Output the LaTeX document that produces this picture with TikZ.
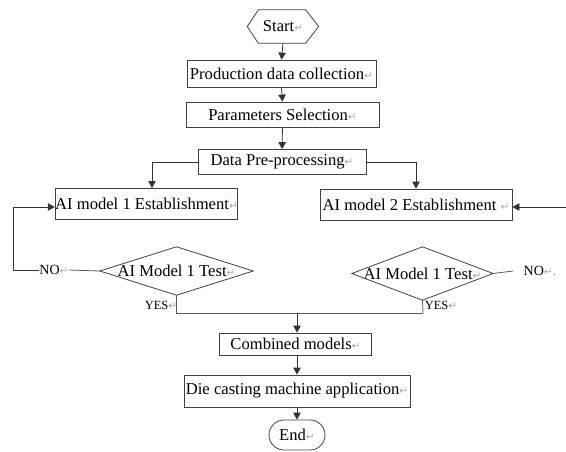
\documentclass[tikz,border=0pt]{standalone}
\usepackage{fontspec}
\setmainfont{Liberation Serif}
\newfontfamily\dejavu{DejaVu Sans}
\usetikzlibrary{shapes.misc,arrows.meta}
\newcommand\parmk{{\dejavu\color{black!35}\fontsize{10.5}{10.5}\selectfont ↵}}
\begin{document}
\begin{tikzpicture}[x=1pt,y=-1pt,
  font=\fontsize{16.6}{18}\selectfont,
  box/.style={draw=black!75, line width=0.8pt, inner sep=0pt},
  plain/.style={inner sep=0pt},
  arr/.style={-{Triangle[length=7pt,width=7.5pt]}, draw=black!80, line width=0.8pt},
  ln/.style={draw=black!65, line width=0.8pt},
  small/.style={inner sep=0pt, font=\fontsize{14}{16}\selectfont},
  tiny/.style={inner sep=0pt, font=\fontsize{12.5}{14}\selectfont}]
\useasboundingbox (0,0) rectangle (566,451);
% nodes
\node[plain, minimum width=71pt, minimum height=33pt] (start) at (283,26.5) {Start\parmk};
\draw[box] (start.west) -- ([xshift=11pt]start.north west) -- ([xshift=-13pt]start.north east)
  -- (start.east) -- ([xshift=-13pt]start.south east) -- ([xshift=11pt]start.south west) -- cycle;
\node[box, minimum width=189pt, minimum height=27pt] (prod) at (281.5,73.5) {Production data collection\parmk};
\node[box, minimum width=193pt, minimum height=25pt] (param) at (282.5,114.5) {Parameters Selection\parmk};
\node[box, minimum width=168pt, minimum height=25pt] (pre) at (282,162) {Data Pre-processing\parmk};
\node[box, minimum width=181pt, minimum height=31pt] (m1) at (146.5,203.5) {AI model 1 Establishment\parmk};
\node[box, minimum width=192pt, minimum height=31pt] (m2) at (416,204.5) {AI model 2 Establishment \parmk};
\node[plain, minimum width=153pt, minimum height=48pt] (d1) at (176.5,271) {AI Model 1 Test\parmk};
\draw[box] (d1.north) -- (d1.east) -- (d1.south) -- (d1.west) -- cycle;
\node[plain, minimum width=141pt, minimum height=53pt] (d2) at (422.5,273.5) {AI Model 1 Test\parmk};
\draw[box] (d2.north) -- (d2.east) -- (d2.south) -- (d2.west) -- cycle;
\node[small] (no1) at (54,270) {NO\parmk};
\node[small] (no2) at (540,271) {NO\parmk{\color{black!40}.}};
\node[tiny] (yes1) at (161,305) {YES\parmk};
\node[tiny] (yes2) at (441,305.5) {YES\parmk};
\node[box, minimum width=152pt, minimum height=22pt] (comb) at (295.5,344) {Combined models\parmk};
\node[box, minimum width=226pt, minimum height=32pt] (die) at (297,391) {Die casting machine application\parmk};
\node[box, rounded rectangle, minimum width=56pt, minimum height=30pt] (end) at (297,435) {End\parmk};
% coordinates
\coordinate (m1in) at (152,188);
\coordinate (fb) at (13,207);
\coordinate (rin) at (566,207);
\coordinate (no2end) at (513,271);
\coordinate (j2) at (423,313);
\coordinate (jm) at (297,313);
% connectors
\draw[arr] (start.south) -- (prod.north);
\draw[arr] (prod.south) -- (param.north);
\draw[arr] (param.south) -- (pre.north);
\draw[arr] (pre.west) -| (m1in);
\draw[arr] (pre.east) -| (m2.north);
\draw[ln] (d1.west) -- (no1.east);
\draw[arr] (no1.west) -| (fb) -- (fb -| m1.west);
\draw[ln] (d2.east) -- (no2end);
\draw[arr] (rin) -- (rin -| m2.east);
\draw[ln] (d1.south) |- (j2);
\draw[ln] (d2.south) -- (j2);
\draw[arr] (jm) -- (jm |- comb.north);
\draw[arr] (comb.south -| jm) -- (die.north -| jm);
\draw[arr] (die.south) -- (end.north);
\end{tikzpicture}
\end{document}
